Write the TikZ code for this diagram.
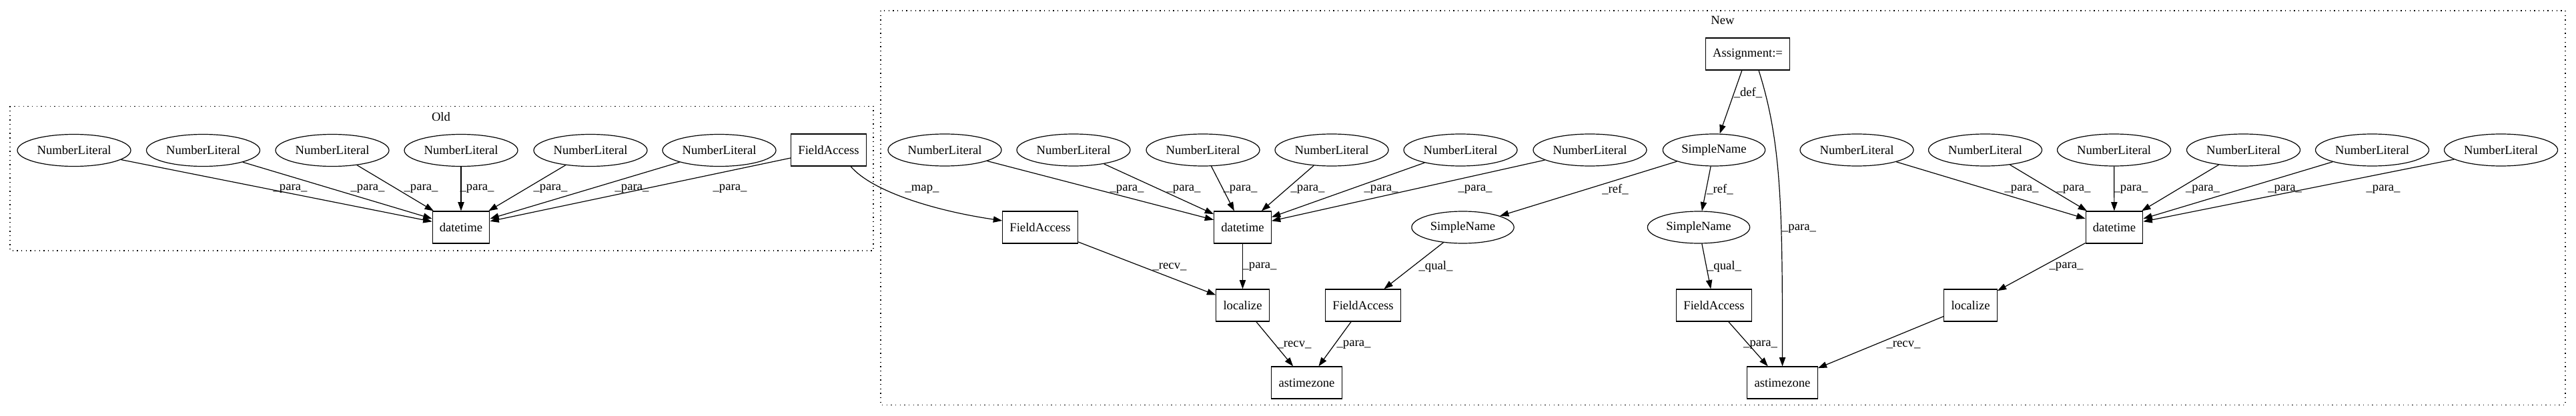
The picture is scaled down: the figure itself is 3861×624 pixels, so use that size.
\documentclass[tikz,border=0pt]{standalone}
\usepackage{fontspec}
\setmainfont{Liberation Serif}
\usetikzlibrary{shapes.geometric,arrows.meta,calc}
\begin{document}
\begin{tikzpicture}[x=0.75pt,y=-0.75pt,
 font=\fontsize{14}{16}\selectfont,
 nl/.style={ellipse,draw,line width=0.9pt,minimum width=127.5pt,minimum height=36pt,inner sep=0pt},
 sn/.style={ellipse,draw,line width=0.9pt,minimum width=115pt,minimum height=36pt,inner sep=0pt},
 bx/.style={rectangle,draw,line width=0.9pt,minimum height=36pt,minimum width=40pt,inner xsep=8pt,inner ysep=0pt},
 edge/.style={draw,line width=0.9pt,-{Triangle[length=10pt,width=7pt]}},
 lbl/.style={inner sep=0pt},
 clus/.style={draw,line width=1pt,dash pattern=on 1pt off 4pt}]
\useasboundingbox[fill=white] (0,0) rectangle (3861,624);
% clusters
\draw[clus] (15,159.5) rectangle (1309,376);
\draw[clus] (1320,16) rectangle (3845,607.5);
\node[lbl] (oldlbl) at (661,175) {Old};
\node[lbl] (newlbl) at (2582,30) {New};
% Old nodes
\foreach \i/\x in {1/111,2/304.5,3/498,4/691,5/885,6/1078}
  \node[nl] (o\i) at (\x,225.5) {NumberLiteral};
\node[bx] (ofa) at (1242,225) {FieldAccess};
\node[bx] (odt) at (691,341) {datetime};
% New nodes
\foreach \i/\x in {1/1416,2/1609,3/1803,4/1996,5/2189,6/2383}
  \node[nl] (n\i) at (\x,225) {NumberLiteral};
\foreach \i/\x in {1/2783,2/2975.5,3/3168.5,4/3362.5,5/3555.5,6/3748.5}
  \node[nl] (m\i) at (\x,225) {NumberLiteral};
\node[bx] (asg) at (2619.5,81) {Assignment:=};
\node[sn] (sn1) at (2569,225) {SimpleName};
\node[bx] (dt1) at (1862.5,341) {datetime};
\node[bx] (nfa) at (1559,341) {FieldAccess};
\node[sn] (sn2) at (2192.5,341) {SimpleName};
\node[sn] (sn3) at (2546,341) {SimpleName};
\node[bx] (loc1) at (1862.5,458) {localize};
\node[bx] (fa2) at (2043,458) {FieldAccess};
\node[bx] (fa3) at (2569,458) {FieldAccess};
\node[bx] (ast1) at (1958.5,574) {astimezone};
\node[bx] (ast2) at (2671.5,574) {astimezone};
\node[bx] (dt2) at (3169,341) {datetime};
\node[bx] (loc2) at (2953.5,458) {localize};
% Old edges
\foreach \i in {1,...,6} \draw[edge] (o\i) -- (odt);
\draw[edge] (ofa) -- (odt);
\foreach \i/\x in {1/435,2/551,3/631,4/715,5/825,6/947,7/1094}
  \node[lbl] (ol\i) at (\x,283) {\_para\_};
% map edge
\draw[edge] ($(ofa.south)+(33,0)$) .. controls (1307,287) and (1400,316) .. ($(nfa.west)+(0,-10)$);
\node[lbl] (lmap) at (1382,284) {\_map\_};
% New edges
\foreach \i in {1,...,6} \draw[edge] (n\i) -- (dt1);
\foreach \i/\x in {1/1689,2/1774,3/1859,4/1960,5/2070,6/2211}
  \node[lbl] (nl\i) at (\x,284) {\_para\_};
\foreach \i in {1,...,6} \draw[edge] (m\i) -- (dt2);
\foreach \i/\x in {1/3030,2/3108,3/3194,4/3301.5,5/3424.6,6/3572}
  \node[lbl] (ml\i) at (\x,284) {\_para\_};
\draw[edge] (asg) -- (sn1);
\node[lbl] (ldef) at (2620,139.5) {\_def\_};
\draw[edge] ($(asg.south)+(16.5,0)$) .. controls +(35,110) and +(0,-230) .. (ast2.north);
\node[lbl] (lap) at (2696.5,342.6) {\_para\_};
\draw[edge] (sn1) -- (sn2);
\node[lbl] (lr1) at (2421,284) {\_ref\_};
\draw[edge] (sn1) -- (sn3);
\node[lbl] (lr2) at (2578,284) {\_ref\_};
\draw[edge] (sn2) -- (fa2);
\node[lbl] (lq1) at (2152,400) {\_qual\_};
\draw[edge] (sn3) -- (fa3);
\node[lbl] (lq2) at (2584.5,400) {\_qual\_};
\draw[edge] (nfa) -- (loc1);
\node[lbl] (lrc1) at (1753,400) {\_recv\_};
\draw[edge] (dt1) -- (loc1);
\node[lbl] (lpd1) at (1888,400) {\_para\_};
\draw[edge] (loc1) -- (ast1);
\node[lbl] (lrc2) at (1940,517) {\_recv\_};
\draw[edge] (fa2) -- (ast1);
\node[lbl] (lpf2) at (2029,517) {\_para\_};
\draw[edge] (fa3) -- (ast2);
\node[lbl] (lpf3) at (2638.6,517) {\_para\_};
\draw[edge] (loc2) -- (ast2);
\node[lbl] (lrc3) at (2853,517) {\_recv\_};
\draw[edge] (dt2) -- (loc2);
\node[lbl] (lpd2) at (3097,400) {\_para\_};
\end{tikzpicture}
\end{document}
